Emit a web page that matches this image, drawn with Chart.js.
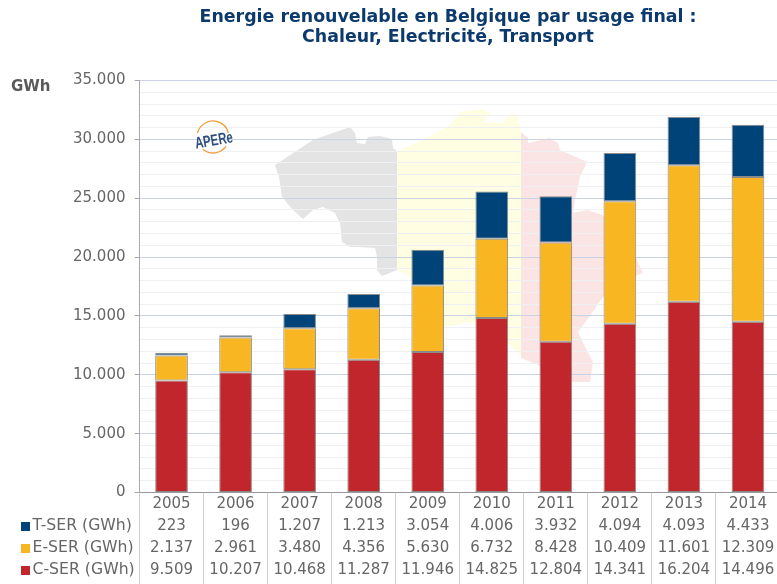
<!DOCTYPE html>
<html lang="fr"><head><meta charset="utf-8">
<style>
html,body{margin:0;padding:0;background:#fff;overflow:hidden;width:777px;height:584px}
#wrap{width:777px;height:584px;overflow:hidden}
canvas{display:block;filter:blur(0.45px)}
</style>
<script src="https://cdn.jsdelivr.net/npm/chart.js@4/dist/chart.umd.js"></script>
</head><body><div id="wrap"><canvas id="c" width="780" height="584" style="width:780px;height:584px"></canvas></div>
<script>
const years=['2005','2006','2007','2008','2009','2010','2011','2012','2013','2014'];
const tSer=[223,196,1207,1213,3054,4006,3932,4094,4093,4433];
const eSer=[2137,2961,3480,4356,5630,6732,8428,10409,11601,12309];
const cSer=[9509,10207,10468,11287,11946,14825,12804,14341,16204,14496];
const titleLines=['Energie renouvelable en Belgique par usage final :','Chaleur, Electricité, Transport'];
const yMax=35000, yStep=1000, yMajor=5000;
const colT='#004379', colE='#f8b722', colC='#c0262b';
const FONT='"DejaVu Sans", Verdana, sans-serif';
const fmt=n=>String(n).replace(/\B(?=(\d{3})+$)/g,'.');

const mapGrey=[[275,165],[313,140],[350,127],[355,133],[357,143],[365,144],[368,137],[380,136],[392,139],[393,148],[397,151],[397,270],[382,276],[377,270],[377,257],[375,248],[357,247],[350,247],[342,242],[340,223],[335,213],[323,207],[313,210],[303,219],[293,210],[282,197],[279,177]];
const mapYellow=[[397,151],[423,140],[450,125],[460,112],[480,109],[492,113],[482,122],[502,123],[512,112],[517,115],[521,132],[521,355],[510,345],[470,322],[445,327],[407,275],[397,270]];
const mapRed=[[521,132],[528,138],[528,143],[550,138],[558,143],[560,150],[587,162],[580,177],[575,200],[573,213],[587,210],[603,215],[637,260],[643,273],[637,275],[603,297],[587,320],[578,332],[583,343],[593,362],[590,382],[573,382],[538,365],[521,358]];

const decor={id:'decor',
 beforeDraw(ch){const x=ch.ctx;x.save();x.fillStyle='#fff';x.fillRect(0,0,ch.width,ch.height);
  [[mapGrey,'#e4e4e4'],[mapYellow,'#fffde2'],[mapRed,'#fbe4e4']].forEach(([p,c])=>{x.beginPath();p.forEach((q,i)=>i?x.lineTo(q[0],q[1]):x.moveTo(q[0],q[1]));x.closePath();x.fillStyle=c;x.fill();});
  x.restore();},
 beforeDatasetsDraw(ch){const x=ch.ctx;x.save();
  x.strokeStyle='#f0a040';x.lineWidth=1.3;
  x.beginPath();x.arc(213,137,16,Math.PI*1.08,Math.PI*1.92);x.stroke();
  x.beginPath();x.arc(213,137,16,Math.PI*0.2,Math.PI*0.72);x.stroke();
  x.translate(214,141);x.rotate(-0.17);x.scale(0.82,1.15);x.fillStyle='#2f4f7c';x.font='bold 14px "Liberation Sans",sans-serif';x.textAlign='center';x.textBaseline='middle';x.fillText('APERe',0,0);
  x.restore();},
 afterDraw(ch){const x=ch.ctx;x.save();
  x.textBaseline='middle';x.textAlign='center';x.fillStyle='#0c3a6d';x.font='bold 17.4px '+FONT;
  titleLines.forEach((t,i)=>x.fillText(t,448,17+i*20.5));
  x.textAlign='left';x.fillStyle='#5a5a5a';x.font='bold 15px '+FONT;x.fillText('GWh',11,87);
  x.font='15.7px '+FONT;
  [2,1,0].forEach((d,i)=>{const y=526+i*22,ds=ch.data.datasets[d];
   x.fillStyle=ds.backgroundColor;x.fillRect(21,y-4,9,9);
   x.fillStyle='#666';x.fillText(ds.label,32.5,y);});
  x.restore();}
};

new Chart(document.getElementById('c'),{type:'bar',plugins:[decor],
 data:{labels:years,datasets:[
  {label:'C-SER (GWh)',data:cSer,backgroundColor:colC},
  {label:'E-SER (GWh)',data:eSer,backgroundColor:colE},
  {label:'T-SER (GWh)',data:tSer,backgroundColor:colT}]},
 options:{responsive:false,animation:false,
  layout:{padding:{top:80.5,left:0,right:0,bottom:0}},
  datasets:{bar:{categoryPercentage:1,barPercentage:0.51,borderWidth:1,borderColor:'rgba(110,110,110,0.8)',borderSkipped:false}},
  plugins:{legend:{display:false},title:{display:false},tooltip:{enabled:false}},
  scales:{
   x:{stacked:true,
    afterFit(s){s.height=91.5;},
    border:{color:'#999'},
    grid:{display:true,drawOnChartArea:false,drawTicks:true,tickLength:92,tickColor:'#cfcfcf',offset:true},
    ticks:{maxRotation:0,minRotation:0,autoSkip:false,padding:-91.5,color:'#666',font:{family:FONT,size:15,lineHeight:22/15},
     callback(v,i){return [years[i],fmt(tSer[i]),fmt(eSer[i]),fmt(cSer[i])];}}},
   y:{stacked:true,min:0,max:yMax,
    afterFit(s){s.width=139.5;},
    border:{color:'#aaa'},
    grid:{color:c=>c.tick.value%yMajor===0?'#c9d3e6':'#eff0f4',tickLength:5,tickColor:c=>c.tick.value%yMajor===0?'#aaa':'rgba(0,0,0,0)',lineWidth:1},
    ticks:{stepSize:yStep,autoSkip:false,padding:9,color:'#666',font:{family:FONT,size:15},
     callback:v=>v%yMajor===0?fmt(v):''}}
  }}});
</script></body></html>
